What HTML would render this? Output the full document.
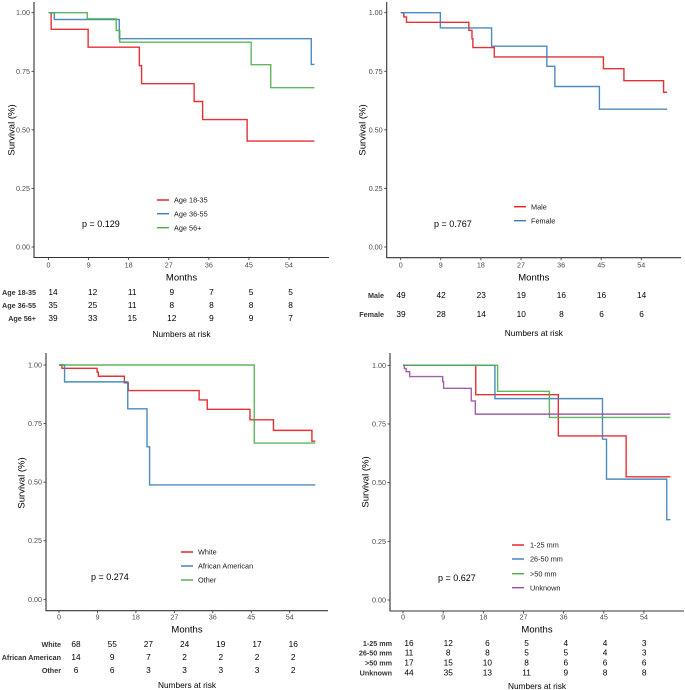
<!DOCTYPE html>
<html><head><meta charset="utf-8">
<style>
body{margin:0;background:#fff;}
svg{display:block;font-family:"Liberation Sans",Arial,sans-serif;}
</style></head>
<body>
<svg id="fig" width="685" height="690" viewBox="0 0 685 690" xmlns="http://www.w3.org/2000/svg"></svg>
<script>
// ---------- DATA ----------
const xTicks = [0, 9, 18, 27, 36, 45, 54];
const yTicks = [0, 0.25, 0.5, 0.75, 1];
const yTickLabels = ["0.00", "0.25", "0.50", "0.75", "1.00"];

// Panel A: age
const ageNames = ["Age 18-35", "Age 36-55", "Age 56+"];
const age1T = [0, 0.6, 8.9, 20.4, 20.9, 32.7, 34.6, 44.6, 59.7];
const age1S = [1, 0.929, 0.853, 0.774, 0.697, 0.621, 0.544, 0.452, 0.452];
const age2T = [0, 1.3, 15.9, 59.0, 59.7];
const age2S = [1, 0.971, 0.889, 0.779, 0.779];
const age3T = [0, 8.7, 15.2, 16.0, 45.5, 49.9, 59.7];
const age3S = [1, 0.974, 0.924, 0.874, 0.778, 0.68, 0.68];
const ageRisk1 = [14, 12, 11, 9, 7, 5, 5];
const ageRisk2 = [35, 25, 11, 8, 8, 8, 8];
const ageRisk3 = [39, 33, 15, 12, 9, 9, 7];

// Panel B: sex
const sexNames = ["Male", "Female"];
const sex1T = [0, 0.7, 1.3, 15.3, 16.0, 16.2, 21.0, 45.5, 50.1, 59.0, 59.8];
const sex1S = [1, 0.982, 0.959, 0.925, 0.889, 0.851, 0.811, 0.761, 0.71, 0.66, 0.66];
const sex2T = [0, 8.9, 20.4, 32.8, 34.6, 44.6, 59.8];
const sex2S = [1, 0.935, 0.857, 0.771, 0.685, 0.588, 0.588];
const sexRisk1 = [49, 42, 23, 19, 16, 16, 14];
const sexRisk2 = [39, 28, 14, 10, 8, 6, 6];

// Panel C: race
const raceNames = ["White", "African American", "Other"];
const race1T = [0, 0.7, 8.9, 9.2, 15.3, 16.2, 32.8, 34.7, 44.7, 50.2, 59.2, 60.0];
const race1S = [1, 0.986, 0.97, 0.952, 0.924, 0.891, 0.851, 0.811, 0.766, 0.721, 0.675, 0.675];
const race2T = [0, 1.3, 16.1, 20.6, 21.2, 60.0];
const race2S = [1, 0.928, 0.813, 0.651, 0.488, 0.488];
const race3T = [0, 45.7, 60.0];
const race3S = [1, 0.667, 0.667];
const raceRisk1 = [68, 55, 27, 24, 19, 17, 16];
const raceRisk2 = [14, 9, 7, 2, 2, 2, 2];
const raceRisk3 = [6, 6, 3, 3, 3, 3, 2];

// Panel D: tumour size
const sizeNames = ["1-25 mm", "26-50 mm", ">50 mm", "Unknown"];
const size1T = [0, 16.3, 34.8, 50.0, 59.9];
const size1S = [1, 0.875, 0.699, 0.525, 0.525];
const size2T = [0, 20.6, 44.7, 45.6, 59.1, 59.9];
const size2S = [1, 0.858, 0.685, 0.515, 0.342, 0.342];
const size3T = [0, 21.2, 32.8, 59.9];
const size3S = [1, 0.889, 0.778, 0.778];
const size4T = [0, 0.3, 0.7, 1.5, 8.9, 9.1, 15.3, 16.2, 59.9];
const size4S = [1, 0.986, 0.973, 0.952, 0.93, 0.902, 0.848, 0.792, 0.792];
const sizeRisk1 = [16, 12, 6, 5, 4, 4, 3];
const sizeRisk2 = [11, 8, 8, 5, 5, 4, 3];
const sizeRisk3 = [17, 15, 10, 8, 6, 6, 6];
const sizeRisk4 = [44, 35, 13, 11, 9, 8, 8];

const pValues = ["p = 0.129", "p = 0.767", "p = 0.274", "p = 0.627"];
const COLORS = ["#E41A1C", "#377EB8", "#4DAF4A", "#984EA3"];

// ---------- LAYOUT ----------
const panels = [
 {id:"age", names:ageNames, T:[age1T,age2T,age3T], S:[age1S,age2S,age3S], risk:[ageRisk1,ageRisk2,ageRisk3], p:pValues[0],
  ax:34, axY:257.5, x0:48.5, x54:289, y1:12.7, y0:247, right:329, top:2, tickY:265, monthsY:277,
  ytitleX:11, ytitleY:130, riskY:[292,305,318], riskX0:53, riskStep:39.6, riskLblX:36, narY:334,
  legX:157, legTX:174, legY:[200,213.7,227.7], pX:82, pY:224},
 {id:"sex", names:sexNames, T:[sex1T,sex2T], S:[sex1S,sex2S], risk:[sexRisk1,sexRisk2], p:pValues[1],
  ax:386.7, axY:257.7, x0:400.7, x54:641.3, y1:12.7, y0:247, right:681, top:2, tickY:265, monthsY:277,
  ytitleX:362, ytitleY:130, riskY:[295,314], riskX0:401, riskStep:40.1, riskLblX:384, narY:333,
  legX:514, legTX:531, legY:[206.7,220.7], pX:434, pY:224},
 {id:"race", names:raceNames, T:[race1T,race2T,race3T], S:[race1S,race2S,race3S], risk:[raceRisk1,raceRisk2,raceRisk3], p:pValues[2],
  ax:46, axY:610.7, x0:59, x54:289.7, y1:365, y0:599.3, right:328, top:353, tickY:617, monthsY:629,
  ytitleX:21, ytitleY:483, riskY:[644,657,670], riskX0:76, riskStep:36.2, riskLblX:61, narY:685,
  legX:181, legTX:198, legY:[552,566,580], pX:91, pY:577},
 {id:"size", names:sizeNames, T:[size1T,size2T,size3T,size4T], S:[size1S,size2S,size3S,size4S], risk:[sizeRisk1,sizeRisk2,sizeRisk3,sizeRisk4], p:pValues[3],
  ax:390, axY:611, x0:403, x54:644, y1:365.3, y0:600, right:684, top:353, tickY:617, monthsY:629,
  ytitleX:365, ytitleY:482, riskY:[643,652.7,662.7,672.7], riskX0:409, riskStep:39.2, riskLblX:392, narY:686,
  legX:512, legTX:530, legY:[545,559,573.7,587.7], pX:438, pY:578}
];

const NS = "http://www.w3.org/2000/svg";
const svg = document.getElementById("fig");
function mk(tag, attrs, parent, text){
  const e = document.createElementNS(NS, tag);
  for (const k in attrs) e.setAttribute(k, attrs[k]);
  if (text !== undefined) e.textContent = text;
  parent.appendChild(e);
  return e;
}

panels.forEach(P => {
  const g = mk("g", {}, svg);
  
  
  const sx = m => P.x0 + (P.x54 - P.x0) * m / 54;
  const sy = v => P.y0 + (P.y1 - P.y0) * v;

  // axes
  const axes = mk("path", {d:`M${P.ax},${P.top} V${P.axY} H${P.right}`, fill:"none", stroke:"#333", "stroke-width":1.1}, g);
  
  

  yTicks.forEach((v, i) => {
    const y = sy(v);
    mk("line", {x1:P.ax-2.5, x2:P.ax, y1:y, y2:y, stroke:"#333", "stroke-width":0.8}, g);
    const t = mk("text", {x:P.ax-4, y:y+2.5, "font-size":7.2, fill:"#4d4d4d", "text-anchor":"end"}, g, yTickLabels[i]);
    
    
  });
  xTicks.forEach(m => {
    const x = sx(m);
    mk("line", {x1:x, x2:x, y1:P.axY, y2:P.axY+2.5, stroke:"#333", "stroke-width":0.8}, g);
    const t = mk("text", {x:x, y:P.tickY+2.5, "font-size":7.2, fill:"#4d4d4d", "text-anchor":"middle"}, g, String(m));
    
    
  });

  const mt = mk("text", {x:(P.ax+P.right)/2, y:P.monthsY+3.5, "font-size":9.5, fill:"#000", "text-anchor":"middle"}, g, "Months");
  
  
  const yt = mk("text", {x:0, y:0, "font-size":9.5, fill:"#000", "text-anchor":"middle", transform:`translate(${P.ytitleX+3.5},${P.ytitleY}) rotate(-90)`}, g, "Survival (%)");
  
  

  // curves
  P.T.forEach((T, si) => {
    let d = `M${sx(T[0])},${sy(P.S[si][0])}`;
    for (let i = 1; i < T.length; i++) {
      d += ` H${sx(T[i])} V${sy(P.S[si][i])}`;
    }
    const c = mk("path", {d:d, fill:"none", stroke:COLORS[si], "stroke-width":1.4, "stroke-opacity":0.9}, g);
    
    
  });

  // legend
  P.names.forEach((n, i) => {
    const y = P.legY[i];
    const l = mk("line", {x1:P.legX, x2:P.legX+12, y1:y, y2:y, stroke:COLORS[i], "stroke-width":1.4}, g);
    
    
    const t = mk("text", {x:P.legTX, y:y+2.6, "font-size":7.3, fill:"#1a1a1a"}, g, n);
    
    
  });

  const pt = mk("text", {x:P.pX, y:P.pY+3, "font-size":9, fill:"#000"}, g, P.p);
  
  

  // risk table
  P.risk.forEach((row, ri) => {
    const y = P.riskY[ri] + 3;
    const lb = mk("text", {x:P.riskLblX, y:y, "font-size":7.2, "font-weight":"bold", fill:"#333", "text-anchor":"end"}, g, P.names[ri]);
    
    
    row.forEach((v, ci) => {
      const t = mk("text", {x:P.riskX0 + ci*P.riskStep, y:y, "font-size":8.3, fill:"#000", "text-anchor":"middle"}, g, String(v));
      
      
    });
  });
  const nr = mk("text", {x:(P.ax+P.right)/2, y:P.narY+3, "font-size":8.3, fill:"#000", "text-anchor":"middle"}, g, "Numbers at risk");
  
  
});
</script>
</body></html>
